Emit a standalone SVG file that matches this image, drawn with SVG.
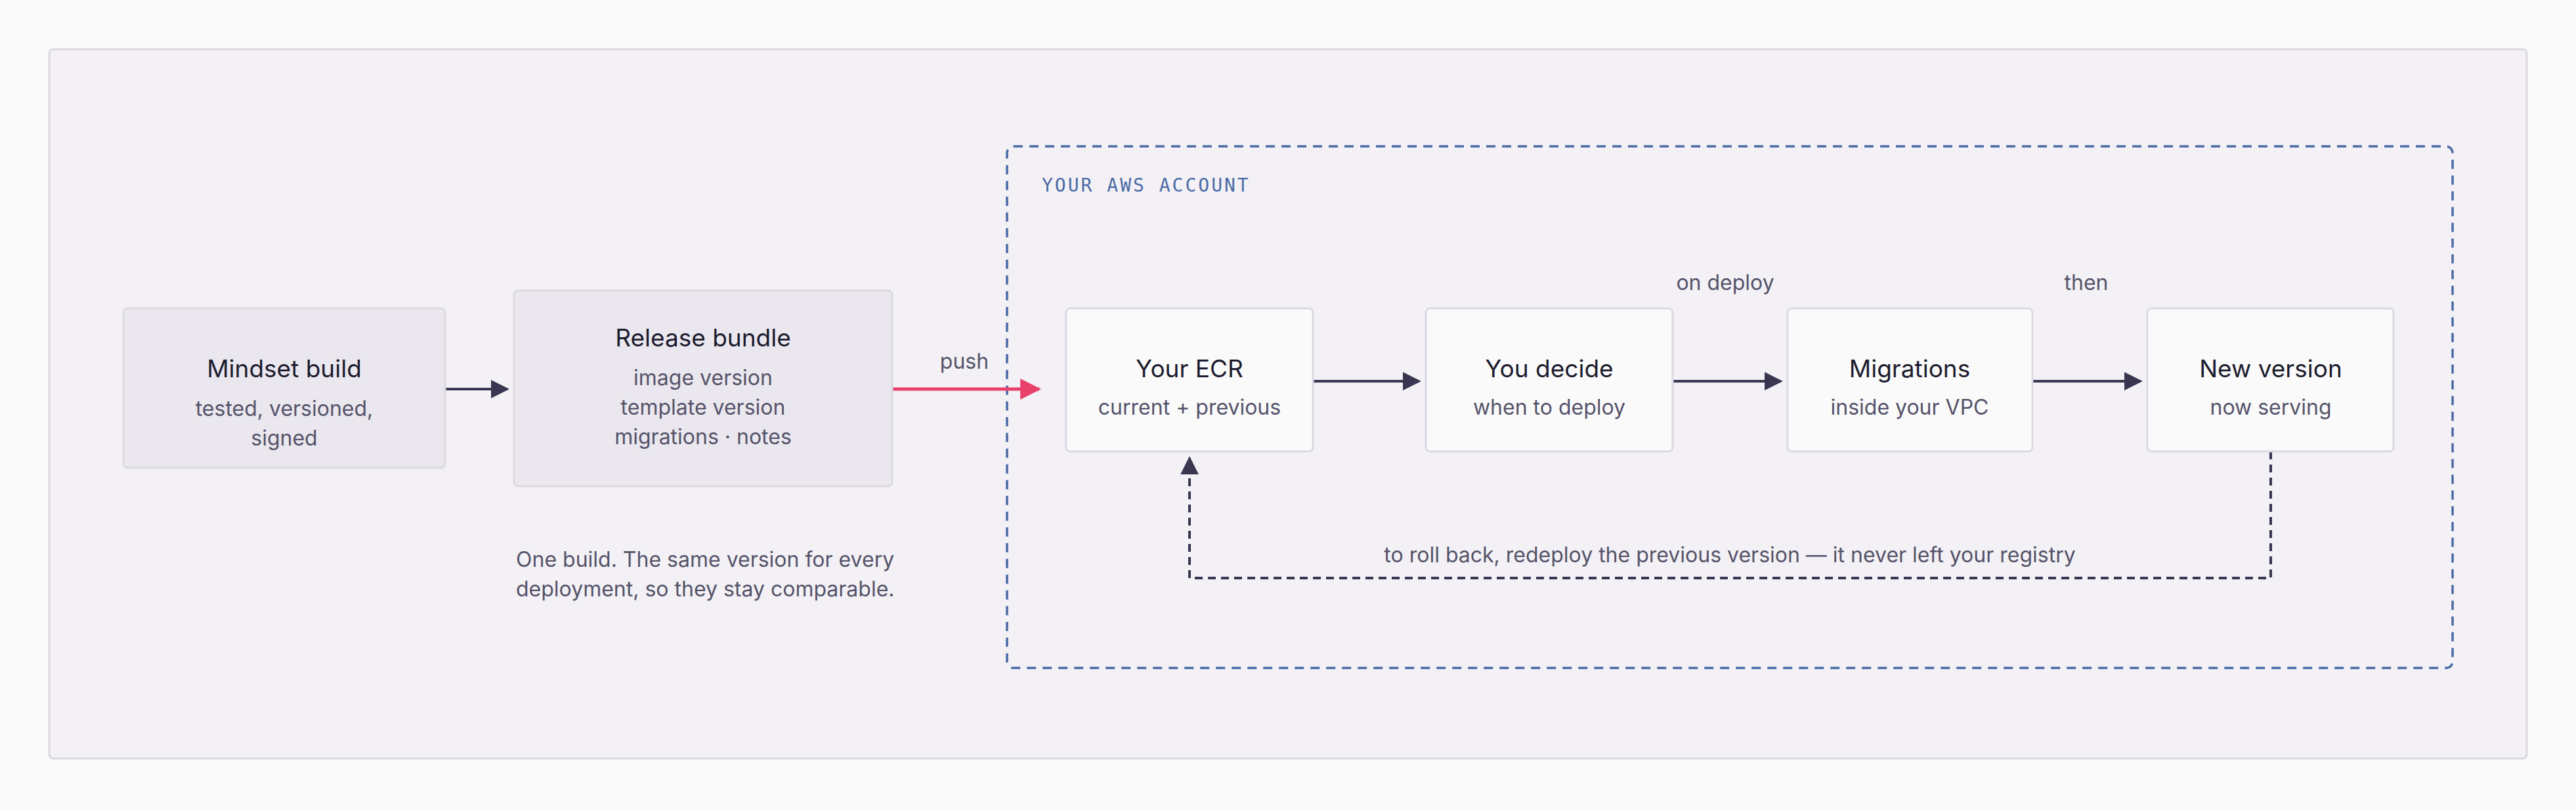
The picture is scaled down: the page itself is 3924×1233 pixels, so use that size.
<svg xmlns="http://www.w3.org/2000/svg" width="3924" height="1233" viewBox="0 0 3924 1233">
<style>
text{font-family:Inter,"Noto Sans",sans-serif}
.t{font-size:37px;fill:#1c1b2e;text-anchor:middle}
.s{font-size:32px;fill:#55536a;text-anchor:middle}
.l{font-size:32px;fill:#55536a}
.g{fill:#eae7ee;stroke:#dcd9e1;stroke-width:3}
.w{fill:#fafafa;stroke:#dcd9e1;stroke-width:3}
.a{stroke:#383650;stroke-width:4;fill:none}
</style>
<defs>
<marker id="ar" markerWidth="10" markerHeight="10" refX="9" refY="5" orient="auto" markerUnits="userSpaceOnUse" viewBox="0 0 10 10"><path d="M0,0L10,5L0,10z" fill="#383650"/></marker>
<marker id="arr" viewBox="0 0 10 10" refX="9" refY="5" markerWidth="32" markerHeight="32" orient="auto" markerUnits="userSpaceOnUse"><path d="M0,0L10,5L0,10z" fill="#e8416a"/></marker>
<marker id="ard" viewBox="0 0 10 10" refX="9" refY="5" markerWidth="28" markerHeight="28" orient="auto" markerUnits="userSpaceOnUse"><path d="M0,0L10,5L0,10z" fill="#383650"/></marker>
</defs>
<rect width="3924" height="1233" fill="#fafafa"/>
<rect x="75" y="75" width="3774" height="1081" rx="6" fill="#f3f1f5" stroke="#dcd9e1" stroke-width="3"/>
<g id="account">
<rect x="1534" y="223" width="2202" height="795" rx="10" fill="none" stroke="#4a6aa5" stroke-width="3.5" stroke-dasharray="14 10"/>
<text x="1587" y="292" font-family="'DejaVu Sans Mono',monospace" style="font-family:'DejaVu Sans Mono',monospace" font-size="28" fill="#4a6aa5" letter-spacing="3">YOUR AWS ACCOUNT</text>
</g>
<g id="connectors">
<line class="a" x1="678" y1="593" x2="773" y2="593" marker-end="url(#ard)"/>
<line x1="1359" y1="593" x2="1583" y2="593" stroke="#e8416a" stroke-width="5" marker-end="url(#arr)"/>
<line class="a" x1="2000" y1="581" x2="2162" y2="581" marker-end="url(#ard)"/>
<line class="a" x1="2548" y1="581" x2="2713" y2="581" marker-end="url(#ard)"/>
<line class="a" x1="3096" y1="581" x2="3261" y2="581" marker-end="url(#ard)"/>
<path class="a" d="M3459,688V881H1812V698" stroke-dasharray="12 8" marker-end="url(#ard)"/>
<text class="l" x="1469" y="562" text-anchor="middle">push</text>
<text class="l" x="2628" y="442" text-anchor="middle">on deploy</text>
<text class="l" x="3178" y="442" text-anchor="middle">then</text>
<text class="l" x="2635" y="857" text-anchor="middle">to roll back, redeploy the previous version — it never left your registry</text>
</g>
<g id="mindset"><rect class="g" x="188" y="470" width="490" height="243" rx="6"/>
<text class="t" x="433" y="575">Mindset build</text><text class="s" x="433" y="634">tested, versioned,</text><text class="s" x="433" y="679">signed</text></g>
<g id="bundle"><rect class="g" x="783" y="443" width="576" height="298" rx="6"/>
<text class="t" x="1071" y="528">Release bundle</text><text class="s" x="1071" y="587">image version</text><text class="s" x="1071" y="632">template version</text><text class="s" x="1071" y="677">migrations · notes</text></g>
<g id="note"><text class="l" x="786" y="864">One build. The same version for every</text><text class="l" x="786" y="909">deployment, so they stay comparable.</text></g>
<g id="ecr"><rect class="w" x="1624" y="470" width="376" height="218" rx="6"/>
<text class="t" x="1812" y="575">Your ECR</text><text class="s" x="1812" y="632">current + previous</text></g>
<g id="decide"><rect class="w" x="2172" y="470" width="376" height="218" rx="6"/>
<text class="t" x="2360" y="575">You decide</text><text class="s" x="2360" y="632">when to deploy</text></g>
<g id="migrations"><rect class="w" x="2723" y="470" width="373" height="218" rx="6"/>
<text class="t" x="2909" y="575">Migrations</text><text class="s" x="2909" y="632">inside your VPC</text></g>
<g id="newversion"><rect class="w" x="3271" y="470" width="375" height="218" rx="6"/>
<text class="t" x="3459" y="575">New version</text><text class="s" x="3459" y="632">now serving</text></g>
</svg>
